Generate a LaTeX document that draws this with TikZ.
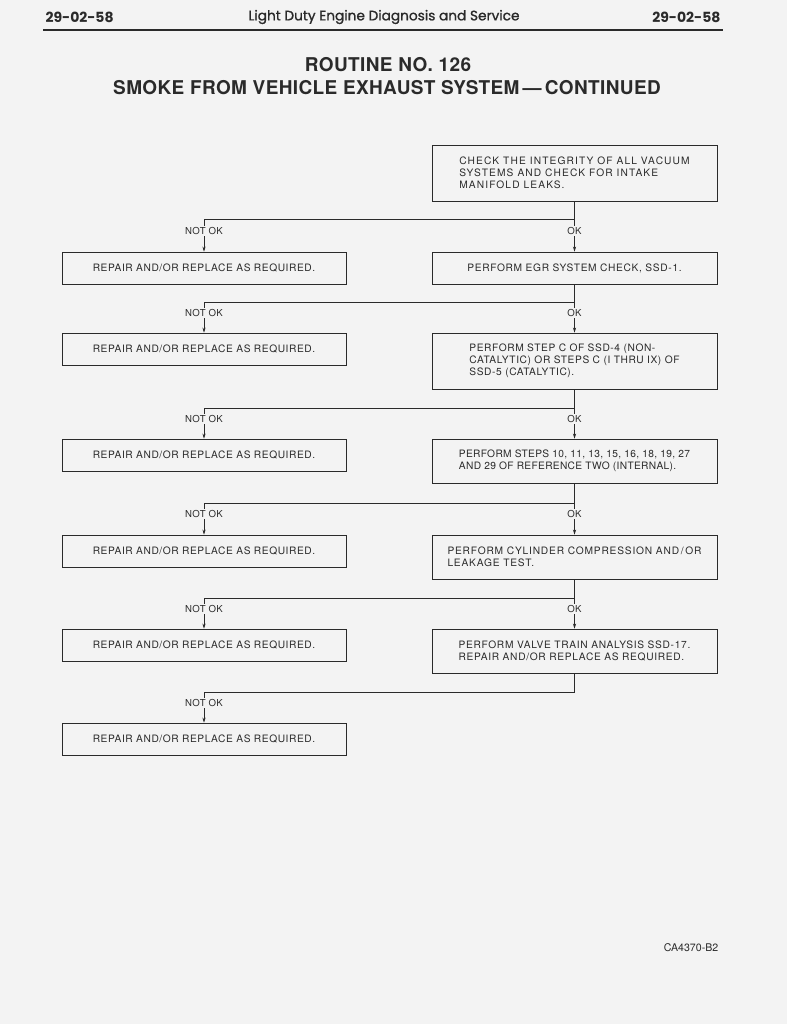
\documentclass[tikz,border=0pt]{standalone}
\usepackage{fontspec}
\setmainfont{TeX Gyre Heros}
\newfontfamily\hdrfont[FakeBold=1.2]{Poppins}
\newfontfamily\hdrbold{Poppins}
\newfontfamily\ttlfont[LetterSpace=2]{TeX Gyre Heros}
\usetikzlibrary{arrows.meta}
\definecolor{paper}{HTML}{F3F3F3}
\definecolor{ink}{HTML}{2A2A2A}
\begin{document}
\begin{tikzpicture}[x=1pt,y=-1pt,
  box/.style={draw=ink, line width=0.8pt, text=ink, inner sep=0pt, align=left},
  bf/.style={font=\fontsize{10.2}{12}\selectfont\addfontfeature{LetterSpace=#1}},
  lbox/.style={box, bf=5.6, minimum width=284pt, minimum height=32pt},
  rbox/.style={box, minimum width=285pt},
  wire/.style={draw=ink, line width=0.8pt},
  arr/.style={wire, -{Stealth[length=5pt,width=3.2pt]}},
  lab/.style={fill=paper, text=ink, inner xsep=0.5pt, inner ysep=1pt,
    font=\fontsize{9.6}{10}\selectfont\addfontfeature{LetterSpace=3}}]
\fill[paper] (0,0) rectangle (787,1024);
\useasboundingbox (0,0) rectangle (787,1024);
% header
\node[text=ink, font=\hdrbold\bfseries\fontsize{14}{15}\selectfont, anchor=west] (pgl) at (42,17) {29-02-58};
\node[text=ink, font=\hdrfont\fontsize{13.7}{15}\selectfont] (hdr) at (384,17) {Light Duty Engine Diagnosis and Service};
\node[text=ink, font=\hdrbold\bfseries\fontsize{14}{15}\selectfont, anchor=east] (pgr) at (724,17) {29-02-58};
\coordinate (rl) at (43,30);
\coordinate (rr) at (723,30);
\draw[ink, line width=1.1pt] (rl) -- (rr);
% title
\node[text=ink, font=\ttlfont\bfseries\fontsize{19}{22}\selectfont] (t1) at (388,65) {ROUTINE NO. 126};
\node[text=ink, font=\ttlfont\bfseries\fontsize{19}{22}\selectfont] (t2) at (387,88) {SMOKE FROM VEHICLE EXHAUST SYSTEM\,—\,CONTINUED};
% boxes
\node[rbox, bf=11, minimum height=56pt] (r0) at (574.5,173) {CHECK THE INTEGRITY OF ALL VACUUM\\SYSTEMS AND CHECK FOR INTAKE\\MANIFOLD LEAKS.};
\node[lbox] (l1) at (204,268) {REPAIR AND/OR REPLACE AS REQUIRED.};
\node[rbox, bf=6.6, minimum height=32pt] (r1) at (574.5,268) {PERFORM EGR SYSTEM CHECK, SSD-1.};
\node[lbox] (l2) at (204,349) {REPAIR AND/OR REPLACE AS REQUIRED.};
\node[rbox, bf=5.8, minimum height=56pt] (r2) at (574.5,361) {PERFORM STEP C OF SSD-4 (NON-\\CATALYTIC) OR STEPS C (I THRU IX) OF\\SSD-5 (CATALYTIC).};
\node[lbox] (l3) at (204,455) {REPAIR AND/OR REPLACE AS REQUIRED.};
\node[rbox, bf=3.2, minimum height=44pt] (r3) at (574.5,461) {PERFORM STEPS 10, 11, 13, 15, 16, 18, 19, 27\\AND 29 OF REFERENCE TWO (INTERNAL).};
\node[lbox] (l4) at (204,551) {REPAIR AND/OR REPLACE AS REQUIRED.};
\node[rbox, bf=8, minimum height=44pt] (r4) at (574.5,557) {PERFORM CYLINDER COMPRESSION AND\,/\,OR\\LEAKAGE TEST.};
\node[lbox] (l5) at (204,645) {REPAIR AND/OR REPLACE AS REQUIRED.};
\node[rbox, bf=6.7, minimum height=44pt] (r5) at (574.5,651) {PERFORM VALVE TRAIN ANALYSIS SSD-17.\\REPAIR AND/OR REPLACE AS REQUIRED.};
\node[lbox] (l6) at (204,739) {REPAIR AND/OR REPLACE AS REQUIRED.};
% junctions
\coordinate (j1) at (574.5,219);
\coordinate (j2) at (574.5,302);
\coordinate (j3) at (574.5,408);
\coordinate (j4) at (574.5,503);
\coordinate (j5) at (574.5,598);
\coordinate (j6) at (574.5,692);
% connectors
\draw[arr] (r0.south) -- (r1.north);
\draw[arr] (j1) -| (l1.north);
\draw[arr] (r1.south) -- (r2.north);
\draw[arr] (j2) -| (l2.north);
\draw[arr] (r2.south) -- (r3.north);
\draw[arr] (j3) -| (l3.north);
\draw[arr] (r3.south) -- (r4.north);
\draw[arr] (j4) -| (l4.north);
\draw[arr] (r4.south) -- (r5.north);
\draw[arr] (j5) -| (l5.north);
\draw[wire] (r5.south) -- (j6);
\draw[arr] (j6) -| (l6.north);
% labels
\node[lab] (n1) at (204,231) {NOT OK};
\node[lab] (o1) at (574.5,231) {OK};
\node[lab] (n2) at (204,313) {NOT OK};
\node[lab] (o2) at (574.5,313) {OK};
\node[lab] (n3) at (204,419) {NOT OK};
\node[lab] (o3) at (574.5,419) {OK};
\node[lab] (n4) at (204,514) {NOT OK};
\node[lab] (o4) at (574.5,514) {OK};
\node[lab] (n5) at (204,609) {NOT OK};
\node[lab] (o5) at (574.5,609) {OK};
\node[lab] (n6) at (204,703) {NOT OK};
% figure id
\node[text=ink, font=\fontsize{10.6}{12}\selectfont] (fid) at (691,948) {CA4370-B2};
\end{tikzpicture}
\end{document}
